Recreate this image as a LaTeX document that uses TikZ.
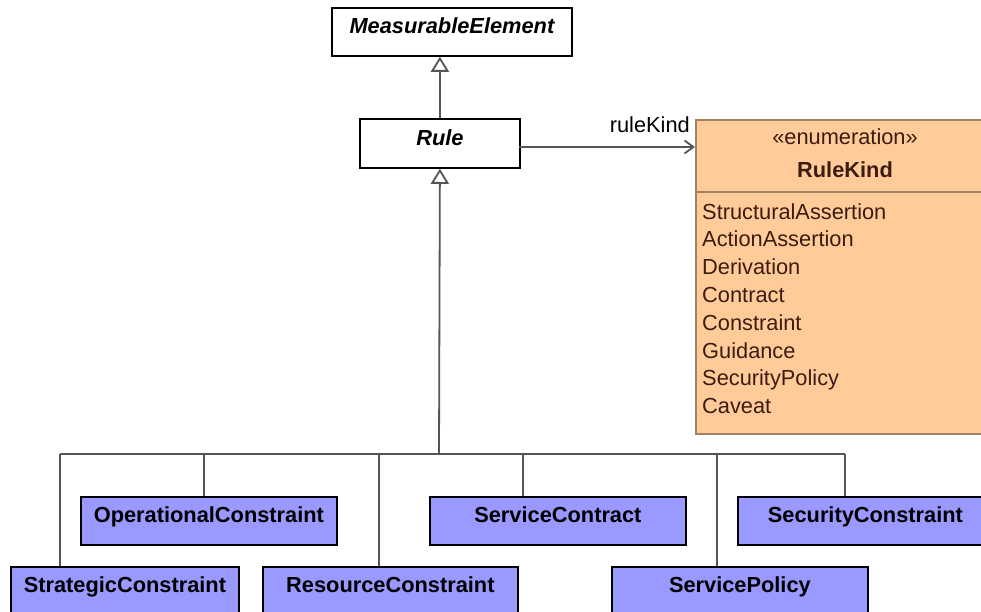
\documentclass[tikz,border=0pt]{standalone}
\usepackage{fontspec}
\setmainfont{Liberation Sans}
\usetikzlibrary{arrows.meta,calc}
\definecolor{lav}{HTML}{9999FF}
\definecolor{enumfill}{HTML}{FFCC99}
\definecolor{enumdraw}{HTML}{A38263}
\definecolor{enumtext}{HTML}{3C1C10}
\definecolor{conn}{HTML}{555555}
\begin{document}
\begin{tikzpicture}[x=1pt,y=-1pt,
  box/.style={draw=black, line width=1.8pt, anchor=north west, inner sep=0pt, minimum height=48pt},
  sub/.style={box, fill=lav},
  txt/.style={font=\fontsize{21.8}{26}\selectfont, inner sep=0pt, anchor=base},
  btxt/.style={txt, font=\fontsize{21.8}{26}\selectfont\bfseries},
  itxt/.style={txt, font=\fontsize{21.8}{26}\selectfont\bfseries\itshape},
  etxt/.style={txt, anchor=base west, text=enumtext},
  conline/.style={draw=conn, line width=1.8pt},
  gen/.style={conline, -{Triangle[length=15pt,width=18pt,fill=white,line width=1.8pt]}},
  assoc/.style={conline, -{Straight Barb[length=9pt,width=13pt,line width=1.8pt]}}
]
\useasboundingbox (0,0) rectangle (981,612);
\clip (0,0) rectangle (981,612);

% top classes
\node[box, fill=white, minimum width=240pt] (me) at (331,7) {};
\node[itxt] (metxt) at ($(me.north)+(0,27)$) {MeasurableElement};
\node[box, fill=white, minimum width=160pt, minimum height=49pt] (rule) at (359,118) {};
\node[itxt] (ruletxt) at ($(rule.north)+(0,28)$) {Rule};

% enumeration
\node[draw=enumdraw, fill=enumfill, line width=1.8pt, anchor=north west, inner sep=0pt,
      minimum width=300pt, minimum height=314pt] (enum) at (695,119) {};
\coordinate (divl) at (695,192);
\coordinate (divr) at (996,192);
\draw[draw=enumdraw, line width=1.8pt] (divl) -- (divr);
\node[txt, text=enumtext] (stereo) at (845,145) {«enumeration»};
\node[btxt, text=enumtext] (enumname) at (845,178) {RuleKind};
\node[etxt] (l1) at (702,219) {StructuralAssertion};
\node[etxt] (l2) at (702,246.8) {ActionAssertion};
\node[etxt] (l3) at (702,274.6) {Derivation};
\node[etxt] (l4) at (702,302.4) {Contract};
\node[etxt] (l5) at (702,330.2) {Constraint};
\node[etxt] (l6) at (702,358) {Guidance};
\node[etxt] (l7) at (702,385.8) {SecurityPolicy};
\node[etxt] (l8) at (702,413.6) {Caveat};

% association
\coordinate (a1) at (519,147);
\coordinate (a2) at (695,147);
\draw[assoc] (a1) -- (a2);
\node[txt, anchor=base east] (rk) at (690,133) {ruleKind};

% generalization Rule -> MeasurableElement
\draw[gen] (rule.north) -- (rule.north |- me.south);

% subclasses
\node[sub, minimum width=256pt] (oc) at (80,496) {};
\node[btxt] (octxt) at ($(oc.north)+(0,26)$) {OperationalConstraint};
\node[sub, minimum width=256pt] (scon) at (429,496) {};
\node[btxt] (scontxt) at ($(scon.north)+(0,26)$) {ServiceContract};
\node[sub, minimum width=255pt] (secc) at (737,496) {};
\node[btxt] (secctxt) at ($(secc.north)+(0,26)$) {SecurityConstraint};
\node[sub, minimum width=228pt] (strat) at (10,566) {};
\node[btxt] (strattxt) at ($(strat.north)+(0,26)$) {StrategicConstraint};
\node[sub, minimum width=255pt] (res) at (262,566) {};
\node[btxt] (restxt) at ($(res.north)+(0,26)$) {ResourceConstraint};
\node[sub, minimum width=256pt] (sp) at (611,566) {};
\node[btxt] (sptxt) at ($(sp.north)+(0,26)$) {ServicePolicy};

% generalization tree
\coordinate (bus) at (439,454);
\coordinate (b1) at (60,454);
\coordinate (b2) at (204,454);
\coordinate (b3) at (379,454);
\coordinate (b4) at (523,454);
\coordinate (b5) at (717,454);
\coordinate (b6) at (845,454);
\draw[gen] (bus) -- (rule.south);
\draw[conline] (b1) -- (b6);
\draw[conline] (b1) -- (b1 |- strat.north);
\draw[conline] (b2) -- (b2 |- oc.north);
\draw[conline] (b3) -- (b3 |- res.north);
\draw[conline] (b4) -- (b4 |- scon.north);
\draw[conline] (b5) -- (b5 |- sp.north);
\draw[conline] (b6) -- (b6 |- secc.north);
\end{tikzpicture}
\end{document}
